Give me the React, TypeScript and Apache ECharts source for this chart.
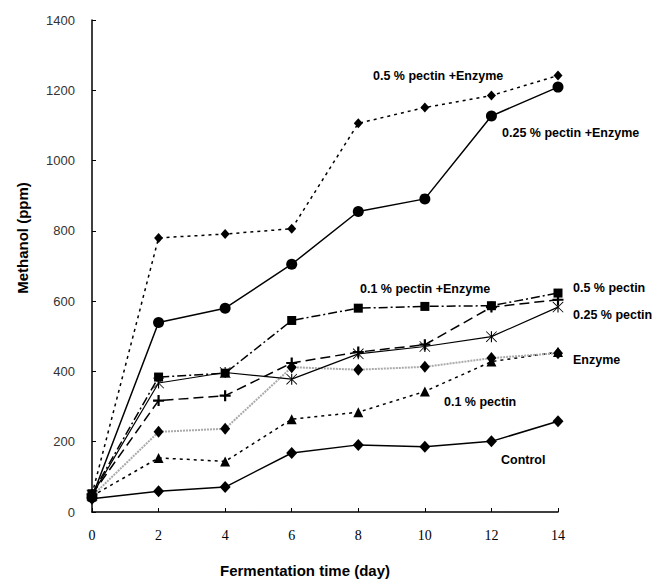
import React, { useEffect, useRef } from "react";
import * as echarts from "echarts";

const days = [0, 2, 4, 6, 8, 10, 12, 14];
const xTicks = [0, 2, 4, 6, 8, 10, 12, 14];
const yTicks = [0, 200, 400, 600, 800, 1000, 1200, 1400];

const pectin05Enzyme = [50, 780, 791, 806, 1106, 1151, 1185, 1242];
const pectin025Enzyme = [42, 539, 580, 705, 855, 891, 1127, 1209];
const pectin01Enzyme = [52, 384, 395, 545, 580, 585, 587, 623];
const pectin05 = [50, 317, 331, 424, 455, 476, 583, 604];
const pectin025 = [48, 367, 397, 378, 450, 471, 499, 583];
const enzyme = [45, 228, 237, 412, 405, 413, 438, 452];
const pectin01 = [45, 154, 144, 264, 284, 343, 428, 455];
const control = [38, 59, 71, 168, 191, 186, 201, 258];

const labelTexts = [
  "0.5 % pectin +Enzyme",
  "0.25 % pectin +Enzyme",
  "0.1 % pectin +Enzyme",
  "0.5 % pectin",
  "0.25 % pectin",
  "Enzyme",
  "0.1 % pectin",
  "Control",
];

const PLUS = "path://M4,0H6V4H10V6H6V10H4V6H0V4H4Z";
const ASTER =
  "path://M9,0H11V20H9Z M0,1L1,0L20,19L19,20Z M19,0L20,1L1,20L0,19Z";

const pairs = (vals: number[]) => days.map((d, i) => [d, vals[i]]);

export default function App() {
  const ref = useRef<HTMLDivElement>(null);
  useEffect(() => {
    if (!ref.current) return;
    const chart = echarts.init(ref.current, null, { renderer: "svg" });
    const sans = "'Liberation Sans', Arial, sans-serif";
    const lbl = (text: string, x: number, y: number) => ({
      type: "text",
      x,
      y,
      style: {
        text,
        font: `bold 12.5px ${sans}`,
        fill: "#000",
        align: "left",
        verticalAlign: "middle",
      },
    });
    const pos: [number, number][] = [
      [373, 76],
      [502, 133],
      [360, 289],
      [573, 288],
      [573, 315],
      [573, 360],
      [444, 402],
      [501, 460],
    ];
    const mk = (
      name: string,
      vals: number[],
      symbol: string,
      size: number | number[],
      lineType: any,
      color = "#000",
      width = 1.5
    ) => ({
      name,
      type: "line",
      data: pairs(vals),
      symbol,
      symbolSize: size,
      showAllSymbol: true,
      itemStyle: { color: "#000" },
      lineStyle: { color, width, type: lineType },
      emphasis: { disabled: true },
    });
    chart.setOption({
      animation: false,
      grid: { left: 92, right: 97, top: 20, bottom: 67, containLabel: false },
      xAxis: {
        type: "value",
        min: 0,
        max: 14,
        interval: 2,
        axisLine: { lineStyle: { color: "#000", width: 1.5 } },
        axisTick: { inside: true, length: 4, lineStyle: { color: "#000" } },
        axisLabel: {
          margin: 16,
          fontFamily: "'Liberation Serif', 'Times New Roman', serif",
          fontSize: 14,
          color: "#000",
          formatter: (v: number) => (xTicks.includes(v) ? String(v) : ""),
        },
        splitLine: { show: false },
      },
      yAxis: {
        type: "value",
        min: 0,
        max: 1400,
        interval: 200,
        axisLine: { show: true, lineStyle: { color: "#000", width: 1.5 } },
        axisTick: { show: true, inside: true, length: 4, lineStyle: { color: "#000" } },
        axisLabel: {
          margin: 17,
          fontFamily: sans,
          fontSize: 13,
          color: "#333",
          formatter: (v: number) => (yTicks.includes(v) ? String(v) : ""),
        },
        splitLine: { show: false },
      },
      series: [
        mk(labelTexts[6], pectin01, "triangle", 10, [3, 4]),
        mk(labelTexts[5], enzyme, "diamond", [10, 12], [2, 1], "#aaa", 2),
        mk(labelTexts[7], control, "diamond", [11, 12], "solid"),
        mk(labelTexts[3], pectin05, PLUS, 11, [10, 5]),
        mk(labelTexts[4], pectin025, ASTER, 11, "solid", "#000", 1.2),
        mk(labelTexts[2], pectin01Enzyme, "rect", 9, [9, 3, 2, 3]),
        mk(labelTexts[0], pectin05Enzyme, "diamond", [9, 10], [3, 4]),
        mk(labelTexts[1], pectin025Enzyme, "circle", 11, "solid"),
      ],
      graphic: [
        ...labelTexts.map((t, i) => lbl(t, pos[i][0], pos[i][1])),
        {
          type: "text",
          x: 305,
          y: 570,
          style: {
            text: "Fermentation time (day)",
            font: `bold 15px ${sans}`,
            fill: "#000",
            align: "center",
            verticalAlign: "middle",
          },
        },
        {
          type: "text",
          x: 22,
          y: 238,
          rotation: Math.PI / 2,
          style: {
            text: "Methanol (ppm)",
            font: `bold 15px ${sans}`,
            fill: "#000",
            align: "center",
            verticalAlign: "middle",
          },
        },
      ],
    });
    return () => chart.dispose();
  }, []);
  return (
    <div
      ref={ref}
      style={{ position: "fixed", left: 0, top: 0, width: 655, height: 579, background: "#fff" }}
    />
  );
}
